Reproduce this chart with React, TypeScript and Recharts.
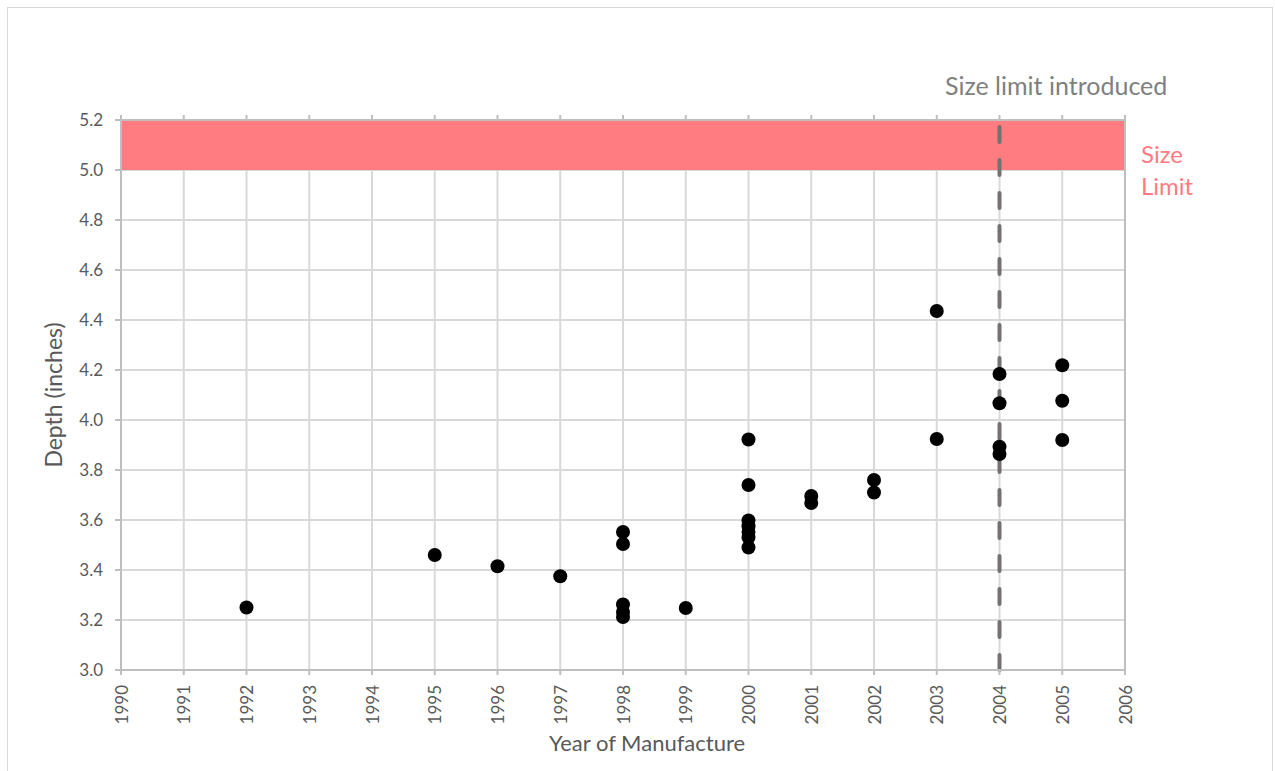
import React from 'react';
import {
  ComposedChart, Scatter, XAxis, YAxis, CartesianGrid, ReferenceArea, ReferenceLine,
} from 'recharts';

const years = [
  1992, 1995, 1996, 1997,
  1998, 1998, 1998, 1998, 1998,
  1999,
  2000, 2000, 2000, 2000, 2000, 2000, 2000,
  2001, 2001,
  2002, 2002,
  2003, 2003,
  2004, 2004, 2004, 2004,
  2005, 2005, 2005,
];
const depths = [
  3.25, 3.46, 3.415, 3.375,
  3.552, 3.504, 3.262, 3.232, 3.212,
  3.248,
  3.922, 3.74, 3.598, 3.575, 3.552, 3.53, 3.49,
  3.696, 3.668,
  3.76, 3.71,
  4.436, 3.924,
  4.184, 4.067, 3.893, 3.864,
  4.219, 4.077, 3.92,
];
const xTicks = [1990, 1991, 1992, 1993, 1994, 1995, 1996, 1997, 1998, 1999, 2000, 2001, 2002, 2003, 2004, 2005, 2006];
const yTicks = [3.0, 3.2, 3.4, 3.6, 3.8, 4.0, 4.2, 4.4, 4.6, 4.8, 5.0, 5.2];
const rightTicks = [3.0, 3.5, 4.0, 4.5, 5.0];
const limitYear = 2004;
const limitLow = 5.0;
const limitHigh = 5.2;

const points = years.map((y, i) => ({ year: y, depth: depths[i] }));

const FONT = "'Lato', 'Open Sans', sans-serif";
const AXIS = '#bfbfbf';
const GRID = '#d9d9d9';
const TEXT = '#595959';

const XTick = (props: any) => {
  const { x, y, payload } = props;
  return (
    <text
      x={x}
      y={y}
      transform={`rotate(-90 ${x} ${y})`}
      textAnchor="end"
      dominantBaseline="central"
      fill={TEXT}
      fontSize={17}
      fontFamily={FONT}
    >
      {payload.value}
    </text>
  );
};

export default function App() {
  return (
    <div style={{ position: 'absolute', left: 0, top: 0, width: 1275, height: 771, overflow: 'hidden', background: '#fff' }}>
      <div style={{ position: 'absolute', left: 7, top: 7, width: 1266, height: 800, border: '1px solid #d9d9d9', boxSizing: 'border-box' }} />
      <ComposedChart
        width={1275}
        height={771}
        data={points}
        margin={{ top: 110, right: 130, left: 61, bottom: 41 }}
        style={{ position: 'absolute', left: 0, top: 0 }}
      >
        <CartesianGrid xAxisId="bottom" yAxisId="left" stroke={GRID} strokeWidth={2} verticalValues={xTicks} horizontalValues={yTicks} />
        <XAxis
          xAxisId="bottom"
          type="number"
          dataKey="year"
          domain={[1990, 2006]}
          ticks={xTicks}
          interval={0}
          allowDecimals={false}
          height={60}
          stroke={AXIS}
          strokeWidth={2}
          tickSize={5}
          tickMargin={10}
          tick={<XTick />}
          tickLine={{ stroke: AXIS, strokeWidth: 2 }}
        />
        <XAxis
          xAxisId="top"
          orientation="top"
          type="number"
          dataKey="year"
          domain={[1990, 2006]}
          ticks={xTicks}
          interval={0}
          height={10}
          stroke={AXIS}
          strokeWidth={2}
          tickSize={5}
          tickFormatter={() => ''}
          tickLine={{ stroke: AXIS, strokeWidth: 2 }}
        />
        <YAxis
          yAxisId="left"
          type="number"
          domain={[3.0, 5.2]}
          ticks={yTicks}
          interval={0}
          width={60}
          stroke={AXIS}
          strokeWidth={2}
          tickSize={6}
          tickMargin={12}
          tickFormatter={(v: number) => v.toFixed(1)}
          tick={{ fill: TEXT, fontSize: 17, fontFamily: FONT }}
          tickLine={{ stroke: AXIS, strokeWidth: 2 }}
        />
        <YAxis
          yAxisId="right"
          orientation="right"
          type="number"
          domain={[3.0, 5.2]}
          ticks={rightTicks}
          interval={0}
          width={20}
          stroke={AXIS}
          strokeWidth={2}
          tickSize={6}
          tickFormatter={() => ''}
          tickLine={{ stroke: AXIS, strokeWidth: 2 }}
        />
        <ReferenceArea
          xAxisId="bottom"
          yAxisId="left"
          x1={1990}
          x2={2006}
          y1={limitLow}
          y2={limitHigh}
          fill="#ff7c80"
          fillOpacity={1}
          stroke="none"
        />
        <ReferenceLine
          xAxisId="bottom"
          yAxisId="left"
          x={limitYear}
          stroke="#757171"
          strokeWidth={4}
          strokeDasharray="15 18"
          strokeLinecap="round"
        />
        <Scatter
          xAxisId="bottom"
          yAxisId="left"
          dataKey="depth"
          fill="#000000"
          isAnimationActive={false}
          shape={(p: any) => <circle cx={p.cx} cy={p.cy} r={7} fill="#000" />}
        />
      </ComposedChart>
      <div style={{ position: 'absolute', left: 945, top: 69, fontFamily: FONT, fontSize: 25, color: '#7f7f7f', whiteSpace: 'nowrap', lineHeight: '32px' }}>
        Size limit introduced
      </div>
      <div style={{ position: 'absolute', left: 1141, top: 138, fontFamily: FONT, fontSize: 24, color: '#ff7c80', lineHeight: '32px' }}>
        Size<br />Limit
      </div>
      <div style={{ position: 'absolute', left: 647, top: 729, transform: 'translateX(-50%)', fontFamily: FONT, fontSize: 22, color: TEXT, whiteSpace: 'nowrap', lineHeight: '28px' }}>
        Year of Manufacture
      </div>
      <div style={{ position: 'absolute', left: 53, top: 395, transform: 'translate(-50%, -50%) rotate(-90deg)', fontFamily: FONT, fontSize: 23, color: TEXT, whiteSpace: 'nowrap', lineHeight: '28px' }}>
        Depth (inches)
      </div>
    </div>
  );
}
